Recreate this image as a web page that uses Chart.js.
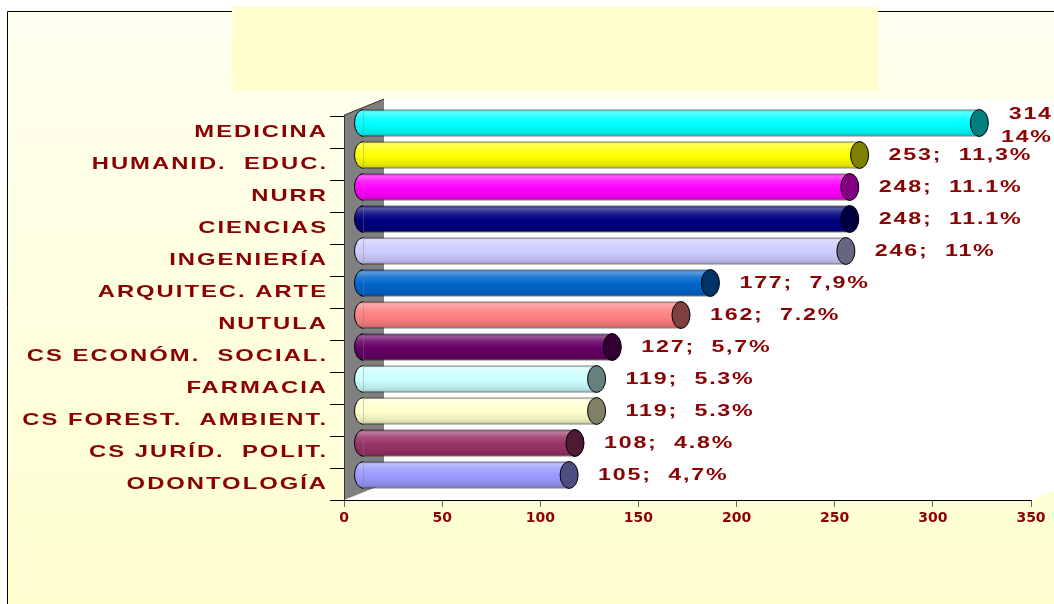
<!DOCTYPE html>
<html><head><meta charset="utf-8">
<script src="https://cdn.jsdelivr.net/npm/chart.js@4.4.0/dist/chart.umd.min.js"></script>
<style>html,body{margin:0;padding:0;background:#fff;overflow:hidden}#wrap{width:1054px;height:604px;position:relative}</style>
</head><body><div id="wrap"><canvas id="c" width="1054" height="604"></canvas></div>
<script>
const categories = ['MEDICINA','HUMANID.  EDUC.','NURR','CIENCIAS','INGENIERÍA','ARQUITEC. ARTE','NUTULA','CS ECONÓM.  SOCIAL.','FARMACIA','CS FOREST.  AMBIENT.','CS JURÍD.  POLIT.','ODONTOLOGÍA'];
const values = [314,253,248,248,246,177,162,127,119,119,108,105];
const percents = ['14%','11,3%','11.1%','11.1%','11%','7,9%','7.2%','5,7%','5.3%','5.3%','4.8%','4,7%'];
const xTicks = [0,50,100,150,200,250,300,350];
const barColors = ['#00FFFF','#FFFF00','#FF00FF','#000080','#CCCCFF','#0066CC','#FF8080','#660066','#CCFFFF','#FFFFCC','#993366','#9999FF'];

const TEXT = '#8B0000';
const DX = 19, DY = -9, CAP_RX = 9;

function hexToRgb(h){h=h.replace('#','');return [parseInt(h.substr(0,2),16),parseInt(h.substr(2,2),16),parseInt(h.substr(4,2),16)];}
function shade(hex,f){const c=hexToRgb(hex);const r=c.map(v=>f>=0?Math.round(v+(255-v)*f):Math.round(v*(1+f)));return 'rgb('+r.join(',')+')';}

function stretched(ctx,text,x,y,o){
  ctx.save();
  ctx.font='bold '+o.size+'px "Liberation Sans", Arial, sans-serif';
  try{ctx.letterSpacing=(o.spacing/o.k)+'px';}catch(e){}
  ctx.fillStyle=o.color||TEXT;
  ctx.textBaseline='middle';ctx.textAlign='left';
  let w=ctx.measureText(text).width;
  if(ctx.letterSpacing) w-=o.spacing/o.k;
  ctx.translate(x,y);ctx.scale(o.k,1);
  const sx=o.align==='right'?-w:0;
  if(o.measureOnly){ctx.restore();return w*o.k;}
  ctx.fillText(text,sx,0);
  ctx.restore();
  return w*o.k;
}

const plugin={
  id:'cyl3d',
  beforeDraw(chart){
    const ctx=chart.ctx;const W=chart.width,H=chart.height;
    ctx.save();
    ctx.fillStyle='#fff';ctx.fillRect(0,0,W,H);
    const g=ctx.createLinearGradient(0,11,0,H);
    g.addColorStop(0,'#FFFFF0');g.addColorStop(1,'#FFFFD0');
    ctx.fillStyle=g;ctx.fillRect(7,11,W-7,H-11);
    ctx.strokeStyle='#000';ctx.lineWidth=1;
    ctx.beginPath();ctx.moveTo(7.5,H);ctx.lineTo(7.5,11.5);ctx.lineTo(W,11.5);ctx.stroke();
    ctx.fillStyle='#FFFDCD';ctx.fillRect(232,7,646,84);
    const a=chart.chartArea;
    const bx=a.left+40, by=a.bottom-16, topY=a.top-17;
    ctx.fillStyle='#fff';
    ctx.beginPath();ctx.moveTo(bx,topY);ctx.lineTo(W,topY);ctx.lineTo(W,a.bottom-(W-a.right)*0.4);
    ctx.lineTo(a.right,a.bottom);ctx.lineTo(a.left,a.bottom);ctx.lineTo(a.left,a.top-1);ctx.closePath();ctx.fill();
    ctx.fillStyle='#808080';
    ctx.beginPath();ctx.moveTo(a.left,a.top-1);ctx.lineTo(bx,topY);ctx.lineTo(bx,by);ctx.lineTo(a.left,a.bottom);ctx.closePath();ctx.fill();
    ctx.strokeStyle='#333';
    ctx.beginPath();ctx.moveTo(a.left+0.5,a.bottom);ctx.lineTo(a.left+0.5,a.top-1);ctx.lineTo(bx,topY);ctx.stroke();
    ctx.restore();
  },
  beforeDatasetsDraw(chart){chart.ctx.save();chart.ctx.translate(DX,DY);},
  afterDatasetsDraw(chart){
    const ctx=chart.ctx;const meta=chart.getDatasetMeta(0);
    meta.data.forEach((el,i)=>{
      const p=el.getProps(['x','y','base','height'],true);
      const ry=p.height/2;
      ctx.beginPath();ctx.ellipse(p.base,p.y,CAP_RX,ry,0,Math.PI/2,Math.PI*1.5);ctx.closePath();
      ctx.fillStyle=el.options.backgroundColor;ctx.fill();
      ctx.beginPath();ctx.ellipse(p.base,p.y,CAP_RX,ry,0,Math.PI/2,Math.PI*1.5);
      ctx.strokeStyle='#000';ctx.lineWidth=1;ctx.stroke();
      ctx.beginPath();ctx.ellipse(p.x,p.y,CAP_RX,ry,0,0,Math.PI*2);
      ctx.fillStyle=shade(barColors[i],-0.5);ctx.fill();ctx.stroke();
    });
    ctx.restore();
    meta.data.forEach((el,i)=>{
      const p=el.getProps(['x','y'],true);
      const txt=values[i]+';  '+percents[i];
      const lx=p.x+DX+CAP_RX+20, ly=p.y+DY+1;
      const o={size:16,k:1.45,spacing:1.8};
      const w=stretched(ctx,txt,0,0,Object.assign({measureOnly:true},o));
      if(lx+w>chart.width-2){
        stretched(ctx,String(values[i]),chart.width-3,ly-9,Object.assign({align:'right'},o));
        stretched(ctx,percents[i],chart.width-3,ly+14,Object.assign({align:'right'},o));
      }else{
        stretched(ctx,txt,lx,ly,o);
      }
    });
  },
  afterDraw(chart){
    const ctx=chart.ctx;const ys=chart.scales.y;const a=chart.chartArea;
    ctx.save();
    ctx.strokeStyle='#000';ctx.lineWidth=1;
    ctx.beginPath();ctx.moveTo(a.left-14,a.bottom+0.5);ctx.lineTo(a.left,a.bottom+0.5);ctx.stroke();
    ctx.restore();
    categories.forEach((c,i)=>{
      stretched(ctx,c,326,ys.getPixelForValue(i),{size:17,k:1.4,spacing:2.0,align:'right'});
    });
  }
};

new Chart(document.getElementById('c'),{
  type:'bar',
  data:{labels:categories,datasets:[{
    data:values,
    clip:false,
    barPercentage:0.84,categoryPercentage:1,
    borderWidth:1,borderColor:'#000',borderSkipped:'start',
    backgroundColor:(c)=>{
      const i=c.dataIndex;const base=barColors[i]||barColors[0];
      const ys=c.chart.scales&&c.chart.scales.y;
      if(!ys||i===undefined||!c.chart.chartArea)return base;
      const cy=ys.getPixelForValue(i);const h=13.5;
      const g=c.chart.ctx.createLinearGradient(0,cy-h,0,cy+h);
      g.addColorStop(0,shade(base,-0.1));
      g.addColorStop(0.1,shade(base,0.35));
      g.addColorStop(0.3,shade(base,0.12));
      g.addColorStop(0.55,base);
      g.addColorStop(0.85,shade(base,-0.1));
      g.addColorStop(1,shade(base,-0.25));
      return g;
    }
  }]},
  options:{
    indexAxis:'y',responsive:false,animation:false,
    layout:{padding:{top:116,right:23,left:0,bottom:0}},
    plugins:{legend:{display:false},tooltip:{enabled:false},title:{display:false}},
    scales:{
      x:{min:0,max:350,position:'bottom',
        afterBuildTicks(s){s.ticks=xTicks.map(v=>({value:v}));},
        afterFit(s){s.height=104;},
        grid:{drawOnChartArea:false,drawTicks:true,tickLength:7,color:'#666'},
        border:{display:true,color:'#000',width:1},
        ticks:{color:TEXT,font:{family:'"DejaVu Sans"',size:14,weight:'bold'},padding:3,maxRotation:0,autoSkip:false}
      },
      y:{position:'left',
        afterFit(s){s.width=344;},
        grid:{offset:true,drawOnChartArea:false,drawTicks:true,tickLength:14,color:'#000'},
        border:{display:false},
        ticks:{display:false}
      }
    }
  },
  plugins:[plugin]
});
</script></body></html>
